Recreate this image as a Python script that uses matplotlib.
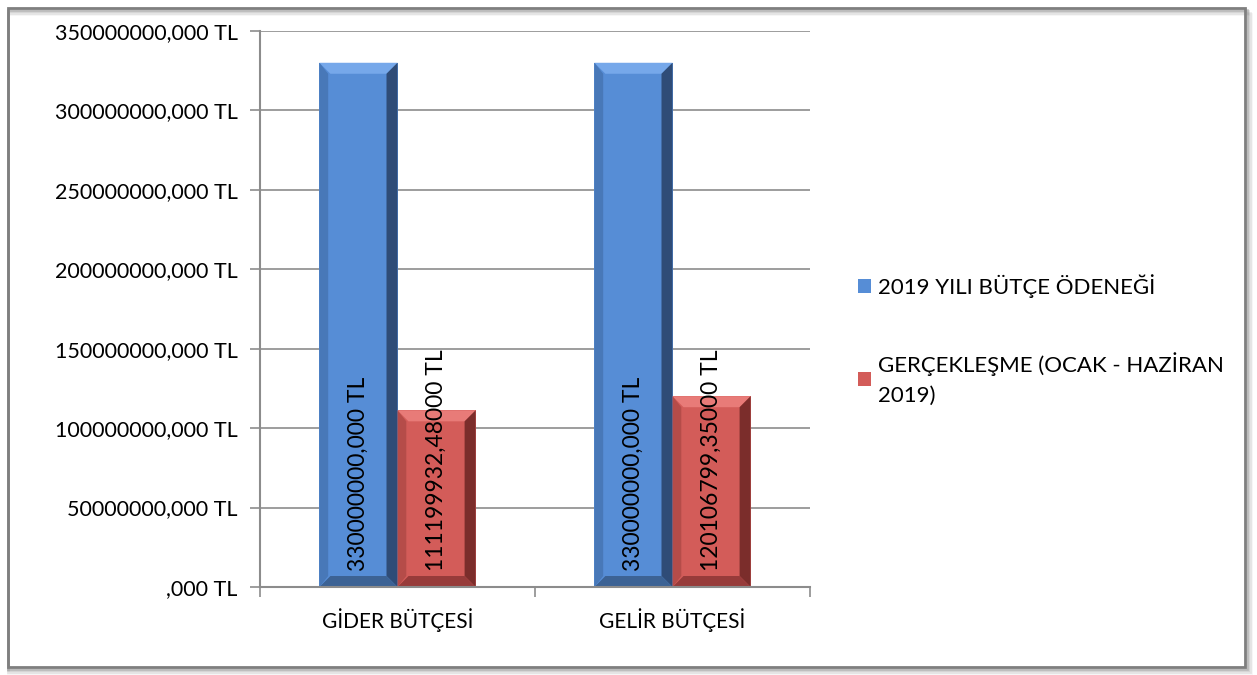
import matplotlib
matplotlib.use("Agg")
import matplotlib.pyplot as plt
from matplotlib.patches import Polygon, Rectangle
from matplotlib.ticker import FuncFormatter, MultipleLocator

CATEGORIES = ["GİDER BÜTÇESİ", "GELİR BÜTÇESİ"]
SERIES_NAMES = ["2019 YILI BÜTÇE ÖDENEĞİ", "GERÇEKLEŞME (OCAK - HAZİRAN\n2019)"]
BUDGET = [330000000.0, 330000000.0]
ACTUAL = [111199932.48, 120106799.35]
BAR_LABELS = [
    ["330000000,000 TL", "330000000,000 TL"],
    ["111199932,48000 TL", "120106799,35000 TL"],
]

FACE = ["#568DD6", "#D35C59"]
TOP = ["#76A8EA", "#E87B78"]
LEFT = ["#4878B8", "#B54C49"]
RIGHT = ["#2F4C77", "#7B2D2B"]
BOTTOM = ["#3C6294", "#973B3A"]

plt.rcParams["font.family"] = ["Lato", "DejaVu Sans"]

fig = plt.figure(figsize=(12.57, 6.75), dpi=100)
fig.patch.set_facecolor("white")

# outer frame with a soft shadow on right and bottom
for i, a in enumerate([0.08, 0.15, 0.25, 0.38]):
    off = (4 - i) * 1.5
    fig.add_artist(Rectangle((8 / 1257, (8 - off) / 675), (1237 + off) / 1257, 659 / 675,
                             transform=fig.transFigure, fill=False,
                             edgecolor=(0.5, 0.5, 0.5, a), lw=2))
fig.add_artist(Rectangle((8 / 1257, 8 / 675), 1237 / 1257, 659 / 675,
                         transform=fig.transFigure, fill=False,
                         edgecolor="#7F7F7F", lw=2))

ax = fig.add_axes([260 / 1257, 88 / 675, 550 / 1257, 556 / 675])
ax.set_xlim(-0.5, 1.5)
ax.set_ylim(0, 350000000)

w = 0.284
series = [BUDGET, ACTUAL]
offsets = [-w / 2, w / 2]
handles = []
bx = 11 * 2.0 / 550
by = 11 * 350000000 / 556
for s, vals in enumerate(series):
    bars = ax.bar([i + offsets[s] for i in range(len(CATEGORIES))], vals, width=w,
                  color=FACE[s], edgecolor="none", zorder=3, label=SERIES_NAMES[s])
    handles.append(bars)
    for k, b in enumerate(bars):
        x0, x1 = b.get_x(), b.get_x() + b.get_width()
        h = b.get_height()
        # bevel edges around each bar
        ax.add_patch(Polygon([(x0, h), (x1, h), (x1 - bx, h - by), (x0 + bx, h - by)],
                             closed=True, color=TOP[s], lw=0, zorder=4))
        ax.add_patch(Polygon([(x1, h), (x1, 0), (x1 - bx, by), (x1 - bx, h - by)],
                             closed=True, color=RIGHT[s], lw=0, zorder=4))
        ax.add_patch(Polygon([(x0, h), (x0, 0), (x0 + bx * 0.8, by), (x0 + bx * 0.8, h - by)],
                             closed=True, color=LEFT[s], lw=0, zorder=4))
        ax.add_patch(Polygon([(x0, 0), (x1, 0), (x1 - bx, by), (x0 + bx, by)],
                             closed=True, color=BOTTOM[s], lw=0, zorder=4))
        ax.text(b.get_x() + b.get_width() / 2, 10000000, BAR_LABELS[s][k],
                rotation=90, ha="center", va="bottom", fontsize=16.5, color="black", zorder=5)

ax.yaxis.set_major_locator(MultipleLocator(50000000))
ax.yaxis.set_major_formatter(FuncFormatter(
    lambda v, p: ",000 TL" if v == 0 else f"{int(v)},000 TL"))
ax.grid(axis="y", color="#8C8C8C", lw=1.2, zorder=0)
ax.set_axisbelow(True)

ax.set_xticks([-0.5, 0.5, 1.5], minor=False)
ax.set_xticklabels([])
ax.set_xticks([0, 1], minor=True)
ax.set_xticklabels(CATEGORIES, minor=True)
ax.tick_params(axis="x", which="minor", length=0, pad=15, labelsize=15)
ax.tick_params(axis="x", which="major", length=7, color="#8C8C8C", width=1.2)
ax.tick_params(axis="y", length=7, color="#8C8C8C", width=1.2, labelsize=15.5, pad=9)

for side in ["top", "right"]:
    ax.spines[side].set_visible(False)
for side in ["left", "bottom"]:
    ax.spines[side].set_color("#8C8C8C")
    ax.spines[side].set_linewidth(1.5)
ax.spines["bottom"].set_zorder(6)

leg = fig.legend(handles=handles, labels=SERIES_NAMES, loc="upper left",
                 bbox_to_anchor=(838 / 1257, 1 - 254 / 675), frameon=False,
                 fontsize=16, handlelength=0.6, handleheight=0.6, handletextpad=0.3,
                 labelspacing=2.45)
for t in leg.get_texts():
    t.set_linespacing(1.6)

fig.savefig("out.png", dpi=100)
